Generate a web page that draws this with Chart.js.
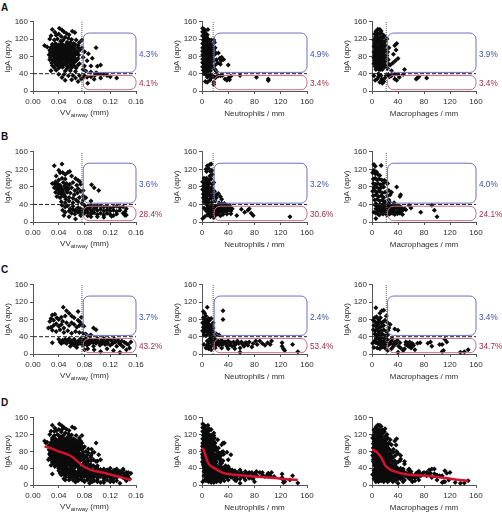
<!DOCTYPE html>
<html>
<head>
<meta charset="utf-8">
<title>IgA scatter panels</title>
<script src="https://cdn.jsdelivr.net/npm/chart.js@4"></script>
<style>
  html, body { margin: 0; padding: 0; background: #fff; }
  #page { position: relative; width: 502px; height: 514px; overflow: hidden; }
  canvas { position: absolute; }
  .letter { position: absolute; left: 1px; font: bold 10px "Liberation Sans", Arial, sans-serif; color: #111; }
</style>
</head>
<body>
<div id="page"></div>
<script>
const rowLetters = ['A', 'B', 'C', 'D'];
const xTitles = ['VV', 'Neutrophils / mm', 'Macrophages / mm'];
const blueLabels = [['4.3%', '4.9%', '3.9%'], ['3.6%', '3.2%', '4.0%'], ['3.7%', '2.4%', '3.4%']];
const redLabels = [['4.1%', '3.4%', '3.4%'], ['28.4%', '30.6%', '24.1%'], ['43.2%', '53.4%', '34.7%']];
const xMax = [0.16, 160, 160];
const xStep = [0.04, 40, 40];
const xCut = [0.076, 17, 22];
const boxStart = [0.078, 18.5, 24];
const yCut = 40;

// Fila A
const aVV = [[.03,142],[.034,136],[.028,128],[.036,129],[.026,120],[.018,105],[.022,102],[.041,145],[.045,141],[.048,137],[.052,133],[.056,130],[.061,138],[.065,135],[.04,132],[.044,126],[.05,124],[.055,122],[.06,119],[.067,118],[.072,112],[.033,118],[.038,120],[.043,115],[.047,118],[.053,113],[.058,112],[.063,110],[.07,105],
[.03,108],[.035,110],[.04,107],[.045,109],[.05,106],[.056,108],[.061,104],[.066,107],[.028,101],[.033,103],[.038,100],[.043,102],[.048,99],[.053,103],[.059,100],[.064,98],[.07,100],[.026,95],[.031,96],[.036,94],[.041,97],[.046,93],[.051,96],[.057,94],[.062,97],[.068,92],[.073,95],
[.027,90],[.032,88],[.037,91],[.042,89],[.047,90],[.052,87],[.058,91],[.063,88],[.069,89],[.025,84],[.03,83],[.035,85],[.04,82],[.045,84],[.05,83],[.055,85],[.06,82],[.066,84],[.071,83],[.027,77],[.033,79],[.038,76],[.043,78],[.048,77],[.053,79],[.058,76],[.064,78],[.07,75],
[.026,72],[.031,71],[.036,73],[.041,70],[.046,72],[.052,71],[.057,73],[.062,70],[.068,71],[.029,65],[.034,66],[.039,64],[.044,67],[.049,65],[.054,66],[.06,64],[.065,67],[.072,63],[.03,59],[.036,60],[.042,58],[.047,61],[.052,59],[.058,60],[.064,58],[.07,60],[.033,54],[.04,53],[.046,55],[.053,52],[.06,54],[.067,53],[.028,47],[.036,48],[.05,46],[.058,47],[.066,45],
[.033,106],[.038,104],[.043,106],[.048,103],[.053,107],[.058,104],[.063,102],[.035,98],[.04,92],[.045,96],[.05,92],[.055,98],[.06,94],[.065,93],[.033,92],[.038,87],[.043,85],[.048,86],[.053,90],[.058,86],[.064,84],[.032,81],[.037,80],[.042,74],[.047,80],[.052,75],[.057,80],[.062,75],[.034,74],[.039,70],[.044,62],[.049,71],[.055,68],[.06,68],[.066,74],[.038,60],[.045,58],[.05,62],[.056,56],[.062,62],
[.08,91],[.086,86],[.098,100],[.084,70],[.078,78],[.09,58],[.092,76],[.105,60],[.1,57],[.08,58],[.076,100],[.076,118],[.078,50],[.082,46],[.09,44],[.098,42],
[.08,35],[.084,32],[.09,33],[.096,36],[.1,40],[.105,37],[.11,38],[.115,36],[.12,33],[.13,30],[.085,18],[.095,27],[.105,30],[.078,30],[.045,31],[.05,25],[.055,35],[.06,26],[.066,30],[.07,22],[.075,28],[.048,38],[.062,36],[.072,36],[.04,39]];
const aNeu = [[1,145],[3,143],[5,140],[9,142],[2,136],[4,134],[6,132],[8,130],[1,128],[3,126],[5,124],[7,125],[9,121],[14,118],[11,117],[2,118],[4,116],[6,115],[8,113],[10,111],[13,109],[15,105],[1,110],[3,107],[5,106],[7,104],[9,103],[11,101],[14,99],[2,100],[4,98],[6,96],[8,95],[10,93],[12,92],[16,96],[1,92],[3,90],[5,88],[7,86],[9,85],[11,84],[14,86],[17,88],[2,82],[4,80],[6,79],[8,77],[10,76],[13,78],[16,75],[1,74],[3,72],[5,70],[7,69],[9,68],[12,67],[15,68],[18,70],[2,64],[4,62],[6,60],[8,60],[10,58],[14,60],[1,56],[3,54],[5,52],[7,52],[9,50],[12,52],[16,55],[4,46],[8,45],[13,47],[18,118],[19,112],[20,100],[18,95],[21,88],[19,84],[25,88],[22,72],[27,76],[30,78],[33,73],[29,70],[40,60],[24,65],[28,62],[20,60],[20,50],[22,45],
[1,137],[2,127],[3,117],[4,108],[2,109],[6,124],[7,112],[9,112],[11,108],[12,98],[1,100],[3,97],[5,94],[7,92],[9,92],[11,90],[13,92],[1,84],[3,82],[5,80],[7,80],[9,78],[11,76],[1,66],[3,64],[5,62],[7,62],[9,60],[11,62],[13,68],[2,48],[6,48],[10,46],[12,60],[15,82],[16,68],
[5,22],[8,20],[12,25],[14,30],[6,38],[10,35],[3,40],[16,36],[8,32],[13,38],[18,33],[20,30],[22,33],[25,35],[28,35],[31,36],[35,28],[38,25],[42,26],[40,30],[44,34],[58,36],[83,32],[101,28],[101,24],[18,15],[18,20]];
const aMac = [[9,143],[12,142],[6,138],[14,139],[4,132],[8,134],[11,133],[16,131],[19,127],[5,125],[9,126],[13,124],[17,123],[3,118],[7,118],[11,117],[15,116],[20,115],[4,110],[8,111],[12,109],[16,108],[21,106],[3,103],[6,104],[10,102],[14,103],[18,101],[5,97],[9,96],[13,96],[17,95],[21,94],[3,90],[7,90],[11,89],[15,88],[19,90],[4,83],[8,84],[12,82],[16,83],[20,82],[3,77],[6,76],[10,77],[14,76],[18,75],[22,78],[4,70],[8,70],[12,69],[16,70],[20,68],[3,63],[7,63],[11,62],[15,63],[19,62],[5,56],[9,56],[13,55],[17,57],[22,58],[6,50],[11,50],[16,50],
[7,128],[11,122],[6,112],[10,112],[14,110],[18,108],[8,100],[12,100],[16,100],[5,92],[9,92],[13,90],[17,90],[6,84],[10,86],[14,84],[18,84],[5,72],[9,76],[13,74],[17,72],[5,66],[9,68],[13,66],[17,64],[7,58],[11,58],[15,58],[19,56],[9,52],[13,50],
[38,110],[35,105],[37,95],[33,85],[40,75],[36,70],[32,65],[28,60],[25,72],[24,90],[26,100],[24,52],[30,47],[26,62],[23,82],[23,120],
[5,25],[12,20],[15,28],[18,22],[20,30],[10,33],[14,36],[8,28],[16,24],[25,38],[30,35],[35,38],[40,38],[48,38],[50,50],[38,25],[35,28],[42,32],[70,30],[72,33],[68,28],[84,30],[3,35],[10,40],[16,18],[22,36],[27,33]];

// Fila B
const bVV = [[.033,128],[.045,132],[.04,118],[.042,112],[.036,105],[.046,113],[.05,108],[.054,113],[.057,115],[.05,98],[.045,100],[.04,96],[.035,92],[.06,105],[.066,99],[.07,95],[.073,92],[.03,88],[.034,86],[.038,88],[.042,84],[.047,90],[.052,88],[.057,86],[.062,90],[.068,84],[.074,86],[.033,78],[.037,76],[.041,79],[.045,74],[.05,77],[.055,75],[.06,78],[.065,72],[.07,76],[.035,68],[.04,65],[.044,69],[.048,64],[.053,68],[.058,66],[.064,62],[.069,66],[.074,70],[.078,72],[.078,60],[.037,58],[.042,55],[.047,59],[.051,52],[.056,56],[.062,54],[.067,50],[.072,56],[.078,50],[.044,46],[.05,44],[.056,48],[.062,44],[.07,46],[.076,42],[.091,85],[.095,78],[.102,72],[.082,55],[.09,48],
[.04,84],[.036,80],[.044,78],[.049,82],[.054,80],[.04,72],[.046,70],[.052,72],[.045,62],[.05,58],
[.045,38],[.05,34],[.054,37],[.058,30],[.062,36],[.066,28],[.07,33],[.074,25],[.046,27],[.05,22],[.056,25],[.06,20],[.065,18],[.07,22],[.074,15],[.048,15],[.056,12],[.066,7],[.075,20],[.08,38],[.085,36],[.09,38],[.095,35],[.1,37],[.105,36],[.11,34],[.115,36],[.12,32],[.125,34],[.13,36],[.135,33],[.14,35],[.145,30],[.08,28],[.085,30],[.09,27],[.095,30],[.1,26],[.105,29],[.11,25],[.115,28],[.12,25],[.125,27],[.13,24],[.135,27],[.08,20],[.085,22],[.09,18],[.095,21],[.1,17],[.105,20],[.11,16],[.115,20],[.12,17],[.125,15],[.13,18],[.14,20],[.143,24],[.145,16],[.085,14],[.09,12],[.1,12],[.11,11],[.122,13],[.143,15],
[.062,28],[.066,24],[.07,26],[.074,30],[.078,24],[.082,32],[.082,24],[.088,33],[.092,24],[.098,33]];
const bNeu = [[12,131],[14,132],[8,128],[6,120],[10,122],[7,115],[13,115],[15,118],[16,108],[12,105],[3,100],[5,98],[7,100],[9,97],[11,95],[14,98],[1,92],[3,90],[5,88],[7,90],[9,87],[12,88],[16,86],[18,90],[2,82],[4,80],[6,82],[8,78],[10,80],[12,77],[15,78],[1,74],[3,72],[5,74],[7,70],[9,72],[11,68],[14,70],[17,72],[2,64],[4,62],[6,65],[8,60],[10,63],[13,60],[16,62],[19,70],[19,60],[22,62],[25,65],[28,58],[30,52],[2,55],[4,52],[6,55],[8,50],[11,52],[14,54],[18,55],[22,55],[3,46],[6,44],[10,45],[15,45],[20,48],[26,44],[30,42],[34,42],
[3,32],[4,12],[1,8],[6,26],[8,38],[10,30],[12,36],[14,38],[9,22],[11,16],[14,24],[16,32],[13,12],[18,10],[18,20],[20,36],[22,33],[24,37],[26,32],[28,36],[30,34],[32,38],[34,33],[36,36],[38,38],[40,34],[42,38],[44,32],[20,26],[22,24],[24,28],[26,22],[28,26],[30,23],[32,27],[34,24],[36,28],[38,25],[40,27],[44,25],[46,30],[21,16],[24,18],[28,14],[32,17],[38,18],[44,19],[53,15],[60,29],[65,22],[70,27],[72,30],[75,20],[78,15],[134,12],
[7,30],[9,34],[11,26],[13,30],[15,28],[17,36],[17,24],[19,30],[8,16],[12,20],[16,16],[20,20],[23,30],[27,30],[31,30],[35,30],[39,30],[23,22]];
const bMac = [[3,131],[5,127],[14,129],[1,112],[3,118],[5,110],[7,114],[9,108],[12,106],[2,98],[5,100],[8,96],[11,98],[15,96],[19,95],[22,90],[24,88],[2,88],[5,86],[9,88],[13,85],[17,87],[3,78],[7,80],[11,76],[14,78],[18,80],[1,70],[4,72],[8,68],[12,70],[16,66],[20,68],[2,60],[6,62],[10,58],[14,60],[18,56],[24,60],[28,62],[30,68],[38,80],[44,62],[43,58],[26,72],[4,50],[8,52],[12,48],[16,50],[20,46],[26,50],[6,42],[12,40],[18,42],[27,45],[34,44],
[6,8],[3,22],[6,30],[9,35],[12,28],[15,38],[18,32],[21,36],[8,20],[11,16],[14,24],[17,18],[20,24],[23,16],[24,38],[26,30],[28,36],[30,33],[32,38],[34,30],[36,36],[38,32],[40,37],[42,30],[44,35],[46,30],[48,28],[50,30],[25,22],[27,18],[29,24],[31,20],[33,25],[35,17],[37,23],[39,19],[41,25],[43,20],[45,24],[47,17],[52,28],[57,38],[60,32],[75,22],[92,38],[96,27],[100,12],
[5,38],[8,32],[11,36],[14,32],[17,26],[20,32],[23,28],[26,26],[30,28],[6,20],[9,26],[13,18],[18,38],[22,22]];

// Fila C
const cVV = [[.028,82],[.03,90],[.034,92],[.026,75],[.032,78],[.037,84],[.04,80],[.044,85],[.046,76],[.05,88],[.047,108],[.052,100],[.056,94],[.06,88],[.064,84],[.07,78],[.073,74],[.075,85],[.07,98],[.024,60],[.028,62],[.032,66],[.036,70],[.04,64],[.044,68],[.048,60],[.052,72],[.056,66],[.06,72],[.064,68],[.068,62],[.072,66],[.076,68],[.079,64],[.03,55],[.036,52],[.042,56],[.048,50],[.054,54],[.06,48],[.066,52],[.072,50],[.078,48],[.082,46],[.09,44],[.094,60],[.098,56],[.088,42],[.03,26],
[.04,34],[.042,28],[.044,24],[.046,32],[.048,27],[.05,34],[.052,24],[.054,30],[.056,35],[.058,26],[.06,30],[.062,23],[.064,34],[.066,27],[.068,20],[.07,30],[.072,25],[.074,35],[.076,22],[.058,18],[.068,15],[.078,32],[.08,26],[.082,36],[.084,20],[.086,30],[.088,24],[.09,34],[.092,28],[.094,18],[.096,32],[.098,25],[.1,36],[.102,27],[.104,20],[.106,32],[.108,25],[.11,36],[.112,22],[.114,30],[.116,26],[.118,34],[.12,20],[.122,30],[.124,24],[.126,35],[.128,28],[.13,18],[.132,32],[.134,25],[.136,22],[.138,30],[.14,17],[.142,27],[.145,24],[.148,22],[.152,28],[.15,14],[.078,20],[.085,12],[.095,10],[.105,6],[.115,12],[.125,8],[.135,4],[.145,10],[.08,10],
[.06,24],[.064,20],[.07,24],[.074,28],[.078,26],[.082,28],[.086,24],[.09,28],[.094,26],[.1,28],[.105,25],[.11,28],[.115,24]];
const cNeu = [[2,98],[4,94],[8,108],[6,88],[10,82],[2,84],[4,80],[7,78],[10,76],[12,80],[14,82],[1,72],[3,70],[5,74],[8,70],[11,68],[14,66],[17,72],[2,62],[4,60],[6,64],[9,60],[12,62],[15,58],[17,60],[1,54],[3,50],[5,55],[8,52],[11,54],[14,50],[17,52],[3,44],[6,42],[9,46],[13,44],[16,42],[22,46],[26,44],[32,100],[32,80],
[3,22],[6,14],[8,30],[10,24],[12,35],[14,18],[16,38],[10,12],[14,10],[17,30],[18,22],[20,34],[22,26],[24,30],[26,20],[28,26],[30,32],[32,22],[34,28],[36,24],[38,18],[40,30],[42,22],[44,26],[46,18],[48,28],[50,20],[54,30],[56,24],[58,14],[58,4],[60,28],[62,22],[64,18],[66,26],[70,20],[72,28],[76,16],[78,24],[82,30],[84,22],[88,30],[92,24],[96,20],[100,26],[104,22],[106,30],[122,26],[122,18],[124,12],[126,8],[138,22],[146,5],[20,14],[30,14],[40,12],[50,12],[25,30],[38,28],
[12,28],[14,34],[16,26],[8,20],[11,18],[18,30],[20,26],[22,22],[24,24],[27,24],[30,24],[33,24],[36,28],[52,24],[66,22],[68,26]];
const cMac = [[6,107],[12,94],[15,100],[18,101],[22,88],[4,84],[7,86],[10,80],[13,84],[2,78],[5,74],[8,72],[11,76],[14,72],[17,74],[20,78],[3,66],[6,64],[9,68],[12,62],[15,64],[18,66],[24,72],[28,68],[26,60],[35,58],[40,55],[2,56],[5,54],[8,58],[11,52],[14,54],[18,56],[22,52],[25,55],[4,46],[7,44],[10,48],[13,42],[16,46],[20,42],[24,44],
[1,25],[4,30],[7,38],[9,24],[11,34],[13,20],[15,30],[17,25],[19,36],[3,15],[8,14],[12,12],[16,16],[20,14],[21,26],[23,34],[25,20],[27,30],[29,24],[31,36],[33,18],[35,28],[37,24],[39,32],[41,18],[43,26],[30,12],[24,8],[40,4],[44,14],[50,12],[52,22],[54,26],[56,18],[58,28],[60,14],[62,24],[64,20],[66,10],[52,28],[48,8],[70,25],[74,26],[86,25],[90,28],[92,18],[108,22],[104,22],[112,34],[115,28],[108,6],[110,8],[136,4],[142,5],[148,10],
[6,26],[10,28],[14,24],[18,28],[22,22],[26,26],[30,30],[34,22],[6,34],[10,38],[14,38],[18,20],[54,20],[58,22],[62,18]];

// Fila D: todos los puntos juntos, más las curvas de suavizado
const dExtraVV = [[.02,100],[.024,92],[.03,112],[.034,98],[.05,90],[.06,70],[.07,44],[.075,60],[.085,62],[.09,66],[.05,12],[.07,10],[.08,8],[.088,4],[.12,40],[.13,38],[.14,38],[.148,30],
[.082,80],[.086,76],[.09,70],[.082,68],[.086,58],[.078,88],[.074,105],[.076,92],[.08,50],[.086,50],[.094,46],[.1,46],[.04,42],[.046,42],[.052,42],[.058,40],[.064,40],[.07,42],[.05,18],[.056,18],[.062,12],[.07,14],[.076,12],[.092,8],[.1,8],[.11,6],[.12,8],[.13,10],
[.026,64],[.028,70],[.03,60],[.032,50],[.034,44],[.038,48],[.042,46],[.046,50],[.052,48],[.06,50]];
const dExtraNeu = [[5,112],[10,135],[18,124],[24,108],[30,96],[34,100],[38,78],[44,72],[12,14],[22,8],[34,10],[52,10],[66,32],[72,16],[80,8],[92,30],[110,20],[124,6],
[14,110],[16,102],[18,104],[20,92],[22,82],[24,78],[26,70],[28,52],[32,58],[36,46],[40,44],[16,78],[18,64],[20,72],[14,72],[22,38],[26,28],[30,18],[34,18],[38,34],[42,34],[46,36],[50,34],[54,22],[60,20],[66,12],[76,30],[80,26],[6,10],[10,8],[14,6],[18,6],[24,10],[28,8]];
const dExtraMac = [[20,134],[24,112],[28,108],[30,96],[33,78],[44,70],[50,56],[58,14],[62,8],[72,12],[80,30],[88,36],[96,38],[100,24],[112,8],[120,30],[118,12],[128,6],
[22,100],[24,96],[26,86],[28,82],[30,76],[24,76],[28,72],[32,55],[36,50],[22,66],[26,54],[30,40],[38,42],[44,40],[6,12],[10,8],[14,10],[18,8],[22,12],[26,10],[32,8],[36,10],[40,14],[46,22],[50,30],[56,36],[66,18],[70,18],[78,28],[84,22]];
const curveVV = [[.018,92],[.03,86],[.04,80],[.05,75],[.06,68],[.07,55],[.08,43],[.09,36],[.1,32],[.11,29],[.12,25],[.13,21],[.14,17],[.152,12]];
const curveNeu = [[0,88],[2,85],[5,72],[8,58],[12,47],[18,41],[25,34],[32,29],[40,26],[60,23],[80,20],[100,18],[120,15],[146,12]];
const curveMac = [[0,84],[4,82],[8,77],[12,70],[16,60],[20,48],[24,41],[30,35],[40,30],[50,26],[60,24],[80,22],[100,19],[120,15],[135,12],[148,10]];

const panelData = [
  [aVV, aNeu, aMac],
  [bVV, bNeu, bMac],
  [cVV, cNeu, cMac],
  [[...aVV, ...bVV, ...cVV, ...dExtraVV], [...aNeu, ...bNeu, ...cNeu, ...dExtraNeu], [...aMac, ...bMac, ...cMac, ...dExtraMac]]
];
const curves = [curveVV, curveNeu, curveMac];

// Colocación de cada panel en la página
const colLeft = [33, 202, 372];
const colWidth = [103, 105, 104];
const rowTop = [21, 151, 284, 417];
const rowHeight = [70, 71, 70, 68];
const letterTop = [2, 131, 264, 397];

const FONT = '"Liberation Sans", Arial, sans-serif';
const INK = '#2e2e2e';
const BLUE = '#6f70c0';
const RED = '#c07088';
const BLUE_TEXT = '#3f50a8';
const RED_TEXT = '#a02f4a';

function toPoints(pairs) {
  return pairs.map(p => ({ x: p[0], y: p[1] }));
}

// Cuadros redondeados y porcentajes, en coordenadas de datos
function regionsPlugin(row, col) {
  return {
    id: 'regions',
    afterDatasetsDraw(chart) {
      if (row > 2) return;
      const { ctx, scales: { x, y } } = chart;
      const left = x.getPixelForValue(boxStart[col]);
      const right = x.getPixelForValue(xMax[col]);
      const box = (top, bottom, color) => {
        const t = y.getPixelForValue(top), b = y.getPixelForValue(bottom);
        ctx.beginPath();
        ctx.roundRect(left, t, right - left, b - t, 6);
        ctx.strokeStyle = color;
        ctx.lineWidth = 1;
        ctx.stroke();
      };
      ctx.save();
      box(134, 43, BLUE);
      box(36, 3, RED);
      ctx.font = '8.2px ' + FONT;
      ctx.textAlign = 'left';
      ctx.textBaseline = 'middle';
      ctx.fillStyle = BLUE_TEXT;
      ctx.fillText(blueLabels[row][col], right + 3, y.getPixelForValue(84));
      ctx.fillStyle = RED_TEXT;
      ctx.fillText(redLabels[row][col], right + 3, y.getPixelForValue(17));
      ctx.restore();
    }
  };
}

// El título con subíndice no lo hace Chart.js
const airwayTitle = {
  id: 'airwayTitle',
  afterDraw(chart) {
    const { ctx, chartArea: a } = chart;
    const cx = (a.left + a.right) / 2;
    const y = a.bottom + 22;
    ctx.save();
    ctx.fillStyle = INK;
    ctx.textBaseline = 'middle';
    ctx.textAlign = 'left';
    ctx.font = '8px ' + FONT;
    const w1 = ctx.measureText('VV').width;
    const w3 = ctx.measureText(' (mm)').width;
    ctx.font = '6px ' + FONT;
    const w2 = ctx.measureText('airway').width;
    let px = cx - (w1 + w2 + w3) / 2;
    ctx.font = '8px ' + FONT;
    ctx.fillText('VV', px, y);
    px += w1;
    ctx.font = '6px ' + FONT;
    ctx.fillText('airway', px, y + 2);
    px += w2;
    ctx.font = '8px ' + FONT;
    ctx.fillText(' (mm)', px, y);
    ctx.restore();
  }
};

function makeDatasets(row, col) {
  const datasets = [];
  if (row === 3) {
    datasets.push({
      data: toPoints(curves[col]),
      showLine: true,
      borderColor: '#d3122e',
      borderWidth: 2.5,
      pointRadius: 0,
      tension: 0.4,
      fill: false,
      order: 0
    });
  } else {
    datasets.push({
      data: [{ x: 0, y: yCut }, { x: xMax[col], y: yCut }],
      showLine: true,
      borderColor: '#222',
      borderWidth: 1,
      borderDash: [4, 2],
      pointRadius: 0,
      order: 1
    });
    datasets.push({
      data: [{ x: xCut[col], y: 0 }, { x: xCut[col], y: 160 }],
      showLine: true,
      borderColor: '#666',
      borderWidth: 1,
      borderDash: [1, 1],
      pointRadius: 0,
      order: 1
    });
  }
  datasets.push({
    data: toPoints(panelData[row][col]),
    pointStyle: 'rectRot',
    pointRadius: 2.5,
    pointBorderWidth: 0,
    pointBackgroundColor: '#0c0c0c',
    clip: false,
    order: 2
  });
  return datasets;
}

const page = document.getElementById('page');
const MARGIN_LEFT = 30, MARGIN_TOP = 6, MARGIN_BOTTOM = 28, MARGIN_RIGHT = 30;

rowLetters.forEach((letter, row) => {
  const div = document.createElement('div');
  div.className = 'letter';
  div.style.top = letterTop[row] + 'px';
  div.textContent = letter;
  page.appendChild(div);

  xTitles.forEach((title, col) => {
    const canvas = document.createElement('canvas');
    const w = MARGIN_LEFT + colWidth[col] + MARGIN_RIGHT;
    const h = MARGIN_TOP + rowHeight[row] + MARGIN_BOTTOM;
    canvas.width = w;
    canvas.height = h;
    canvas.style.left = (colLeft[col] - MARGIN_LEFT) + 'px';
    canvas.style.top = (rowTop[row] - MARGIN_TOP) + 'px';
    page.appendChild(canvas);

    const plugins = [regionsPlugin(row, col)];
    if (col === 0) plugins.push(airwayTitle);

    new Chart(canvas.getContext('2d'), {
      type: 'scatter',
      data: { datasets: makeDatasets(row, col) },
      plugins: plugins,
      options: {
        responsive: false,
        animation: false,
        events: [],
        layout: { padding: { top: MARGIN_TOP, right: MARGIN_RIGHT, left: 0, bottom: 0 } },
        plugins: { legend: { display: false }, tooltip: { enabled: false } },
        scales: {
          x: {
            type: 'linear',
            min: 0,
            max: xMax[col],
            afterFit(scale) { scale.height = MARGIN_BOTTOM; },
            border: { color: '#555' },
            grid: { drawOnChartArea: false, tickLength: 3, tickColor: '#555' },
            ticks: {
              stepSize: xStep[col],
              autoSkip: false,
              maxRotation: 0,
              padding: 3,
              color: INK,
              font: { family: FONT, size: 8 },
              callback: v => col === 0 ? v.toFixed(2) : String(v)
            },
            title: {
              display: col !== 0,
              text: title,
              color: INK,
              font: { family: FONT, size: 8 },
              padding: { top: 3, bottom: 0 }
            }
          },
          y: {
            type: 'linear',
            min: 0,
            max: 160,
            afterFit(scale) { scale.width = MARGIN_LEFT; },
            border: { color: '#555' },
            grid: { drawOnChartArea: false, tickLength: 3, tickColor: '#555' },
            ticks: {
              stepSize: 40,
              padding: 2,
              color: INK,
              font: { family: FONT, size: 8 }
            },
            title: {
              display: true,
              text: 'IgA (apv)',
              color: INK,
              font: { family: FONT, size: 8 },
              padding: { top: 0, bottom: 0 }
            }
          }
        }
      }
    });
  });
});
</script>
</body>
</html>
